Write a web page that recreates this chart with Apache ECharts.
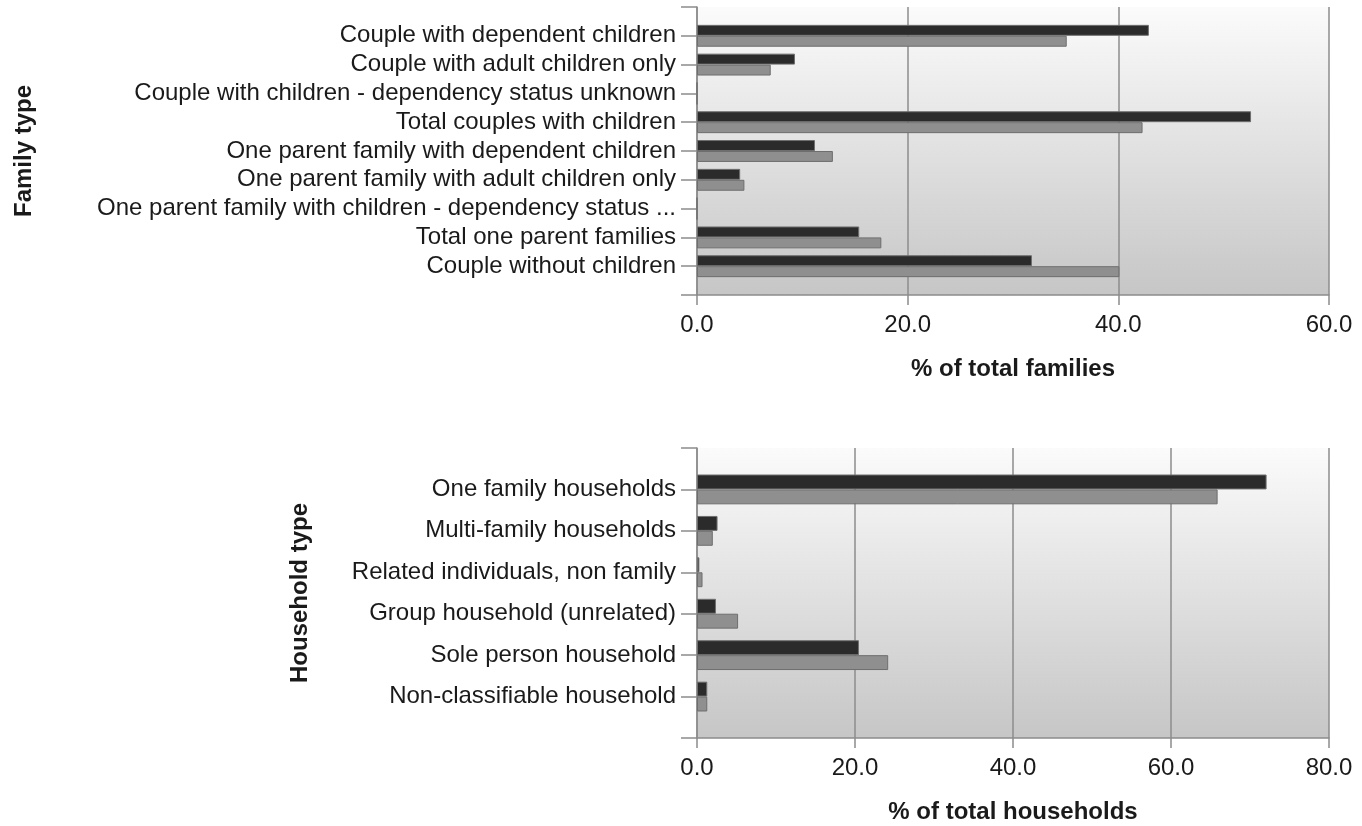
<!DOCTYPE html>
<html>
<head>
<meta charset="utf-8">
<script src="https://cdn.jsdelivr.net/npm/echarts@6/dist/echarts.min.js"></script>
<style>
html,body{margin:0;padding:0;background:#fff;}
#chart{width:1362px;height:826px;}
</style>
</head>
<body>
<div id="chart"></div>
<script>
// ---- data ----
const familyTypes = [
  'Couple with dependent children',
  'Couple with adult children only',
  'Couple with children - dependency status unknown',
  'Total couples with children',
  'One parent family with dependent children',
  'One parent family with adult children only',
  'One parent family with children - dependency status ...',
  'Total one parent families',
  'Couple without children'
];
const familyDark = [42.9, 9.3, 0, 52.6, 11.2, 4.1, 0, 15.4, 31.8];
const familyGray = [35.1, 7.0, 0, 42.3, 12.9, 4.5, 0, 17.5, 40.1];
const familyTicks = [0, 20, 40, 60];

const householdTypes = [
  'One family households',
  'Multi-family households',
  'Related individuals, non family',
  'Group household (unrelated)',
  'Sole person household',
  'Non-classifiable household'
];
const householdDark = [72.1, 2.6, 0.3, 2.4, 20.5, 1.3];
const householdGray = [65.9, 2.0, 0.7, 5.2, 24.2, 1.3];
const householdTicks = [0, 20, 40, 60, 80];

// ---- helpers ----
const pad = arr => [null, ...arr, null];
const padCat = arr => ['', ...arr, ''];
const FONT = "'Liberation Sans', Arial, sans-serif";
const LINE = '#8c8c8c';
const TEXT = '#1a1a1a';
const bg = () => new echarts.graphic.LinearGradient(0, 0, 0, 1, [
  {offset: 0, color: '#fbfbfb'},
  {offset: 1, color: '#c6c6c6'}
]);

function valueAxis(gridIndex, ticks, name) {
  return {
    type: 'value', gridIndex,
    min: ticks[0], max: ticks[ticks.length - 1], interval: ticks[1] - ticks[0],
    name, nameLocation: 'middle', nameGap: 62,
    nameTextStyle: {fontFamily: FONT, fontSize: 24, fontWeight: 'bold', color: TEXT},
    axisLine: {show: true, lineStyle: {color: LINE, width: 1.5}},
    axisTick: {show: true, length: 10, lineStyle: {color: LINE, width: 1.5}},
    axisLabel: {fontFamily: FONT, fontSize: 24, color: TEXT, margin: 18,
      formatter: v => v.toFixed(1)},
    splitLine: {show: true, lineStyle: {color: LINE, width: 1.5}}
  };
}
function catAxis(gridIndex, cats, name, nameGap) {
  return {
    type: 'category', gridIndex, data: padCat(cats), inverse: true, boundaryGap: false,
    name, nameLocation: 'middle', nameGap, nameRotate: 90,
    nameTextStyle: {fontFamily: FONT, fontSize: 24, fontWeight: 'bold', color: TEXT},
    axisLine: {show: true, lineStyle: {color: LINE, width: 1.5}},
    axisTick: {show: true, length: 16, interval: 0, lineStyle: {color: LINE, width: 1.5}},
    axisLabel: {fontFamily: FONT, fontSize: 24, color: TEXT, margin: 21, interval: 0},
    splitLine: {show: false}
  };
}
function barSeries(name, idx, data, color, gap) {
  return {
    type: 'bar', name, xAxisIndex: idx, yAxisIndex: idx, data: pad(data),
    barGap: '0%', barCategoryGap: gap,
    itemStyle: {color, borderColor: '#6e6e6e', borderWidth: 1},
    silent: true
  };
}

const chart = echarts.init(document.getElementById('chart'), null, {renderer: 'canvas'});
chart.setOption({
  animation: false,
  backgroundColor: '#ffffff',
  grid: [
    {left: 697, right: 33, top: 7, height: 288, show: true, backgroundColor: bg(), borderWidth: 0},
    {left: 697, right: 33, top: 448, height: 290, show: true, backgroundColor: bg(), borderWidth: 0}
  ],
  xAxis: [
    valueAxis(0, familyTicks, '% of total families'),
    valueAxis(1, householdTicks, '% of total households')
  ],
  yAxis: [
    catAxis(0, familyTypes, 'Family type', 661),
    catAxis(1, householdTypes, 'Household type', 385)
  ],
  series: [
    barSeries('Area', 0, familyDark, '#2b2b2b', '24%'),
    barSeries('Comparison', 0, familyGray, '#8f8f8f', '24%'),
    barSeries('Area', 1, householdDark, '#2b2b2b', '28%'),
    barSeries('Comparison', 1, householdGray, '#8f8f8f', '28%')
  ]
});
</script>
</body>
</html>
